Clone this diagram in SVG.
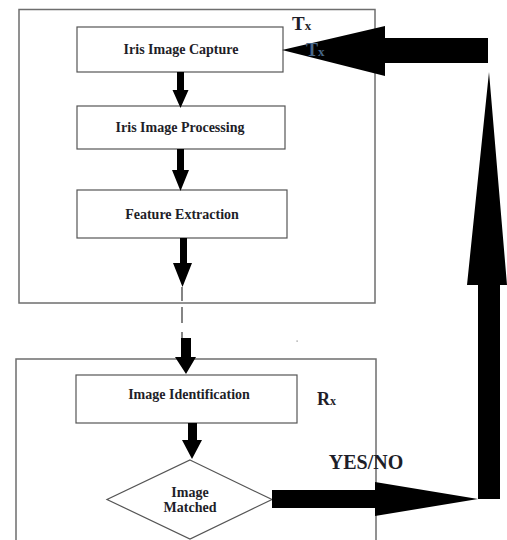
<svg xmlns="http://www.w3.org/2000/svg" width="507" height="540" viewBox="0 0 507 540">
<style>
.frame{fill:none;stroke:#6e6e6e;stroke-width:1.5}
.box{fill:#fff;stroke:#555;stroke-width:1.2}
.lbl{font-family:"Liberation Serif","Times New Roman",serif;font-weight:bold;font-size:14px;fill:#1e1e28;text-anchor:middle}
.big{font-family:"Liberation Serif","Times New Roman",serif;font-weight:bold;fill:#1e1e28}
.arr{fill:#000}
.thin{stroke:#333;stroke-width:1.2;fill:none}
</style>
<rect width="507" height="540" fill="#fff"/>
<g id="tx-frame">
<rect class="frame" x="19" y="9.5" width="356" height="293.5"/>
<text class="big" x="292" y="30" font-size="19">T<tspan font-size="13">x</tspan></text>
</g>
<g id="rx-frame">
<rect class="frame" x="16" y="359" width="360" height="200"/>
<text class="big" x="317" y="405" font-size="18">R<tspan font-size="12">x</tspan></text>
</g>
<g id="capture">
<rect class="box" x="77" y="27" width="206" height="45"/>
<text class="lbl" x="181" y="54">Iris Image Capture</text>
</g>
<g id="processing">
<rect class="box" x="77" y="106" width="208" height="43"/>
<text class="lbl" x="180" y="132">Iris Image Processing</text>
</g>
<g id="feature">
<rect class="box" x="77" y="190" width="210" height="48"/>
<text class="lbl" x="182" y="219">Feature Extraction</text>
</g>
<g id="identification">
<rect class="box" x="76" y="375" width="221" height="48"/>
<text class="lbl" x="189" y="399">Image Identification</text>
</g>
<g id="matched">
<polygon class="box" points="190,460 272,499.5 190,539 107,499.5"/>
<text class="lbl" x="190" y="497">Image</text>
<text class="lbl" x="190" y="512">Matched</text>
</g>
<g id="connectors">
<polygon class="arr" points="177,72 184,72 184,90 188.5,90 180.5,108 172.5,90 177,90"/>
<polygon class="arr" points="177,149 184,149 184,170 189,170 180.5,191 172,170 177,170"/>
<polygon class="arr" points="180,238 187,238 187,263 192,263 182.5,287 173,263 180,263"/>
<line class="thin" x1="182" y1="287" x2="182" y2="301"/>
<line class="thin" x1="182" y1="307" x2="182" y2="323"/>
<line class="thin" x1="182" y1="332" x2="182" y2="338"/>
<polygon class="arr" points="181,338 191,338 191,357 196,357 186,374 175,357 181,357"/>
<polygon class="arr" points="188,423 197,423 197,440 202,440 192,459 182,440 188,440"/>
<polygon class="arr" points="272,490 375,490 375,482 478,499 375,516 375,508 272,508"/>
<polygon class="arr" points="478,499 478,285 467,285 489,72 507,285 500,285 500,499"/>
<polygon class="arr" points="488,38 385,38 385,26 282,50 385,76 385,63 488,63"/>
<rect x="296.5" y="340.5" width="1.2" height="1.2" fill="#888"/>
</g>
<text x="306" y="56" font-family="Liberation Serif, Times New Roman, serif" font-weight="bold" font-size="18" fill="#48688a">T<tspan font-size="13">x</tspan></text>
<text class="big" x="366" y="469" font-size="20" text-anchor="middle">YES/NO</text>
</svg>
